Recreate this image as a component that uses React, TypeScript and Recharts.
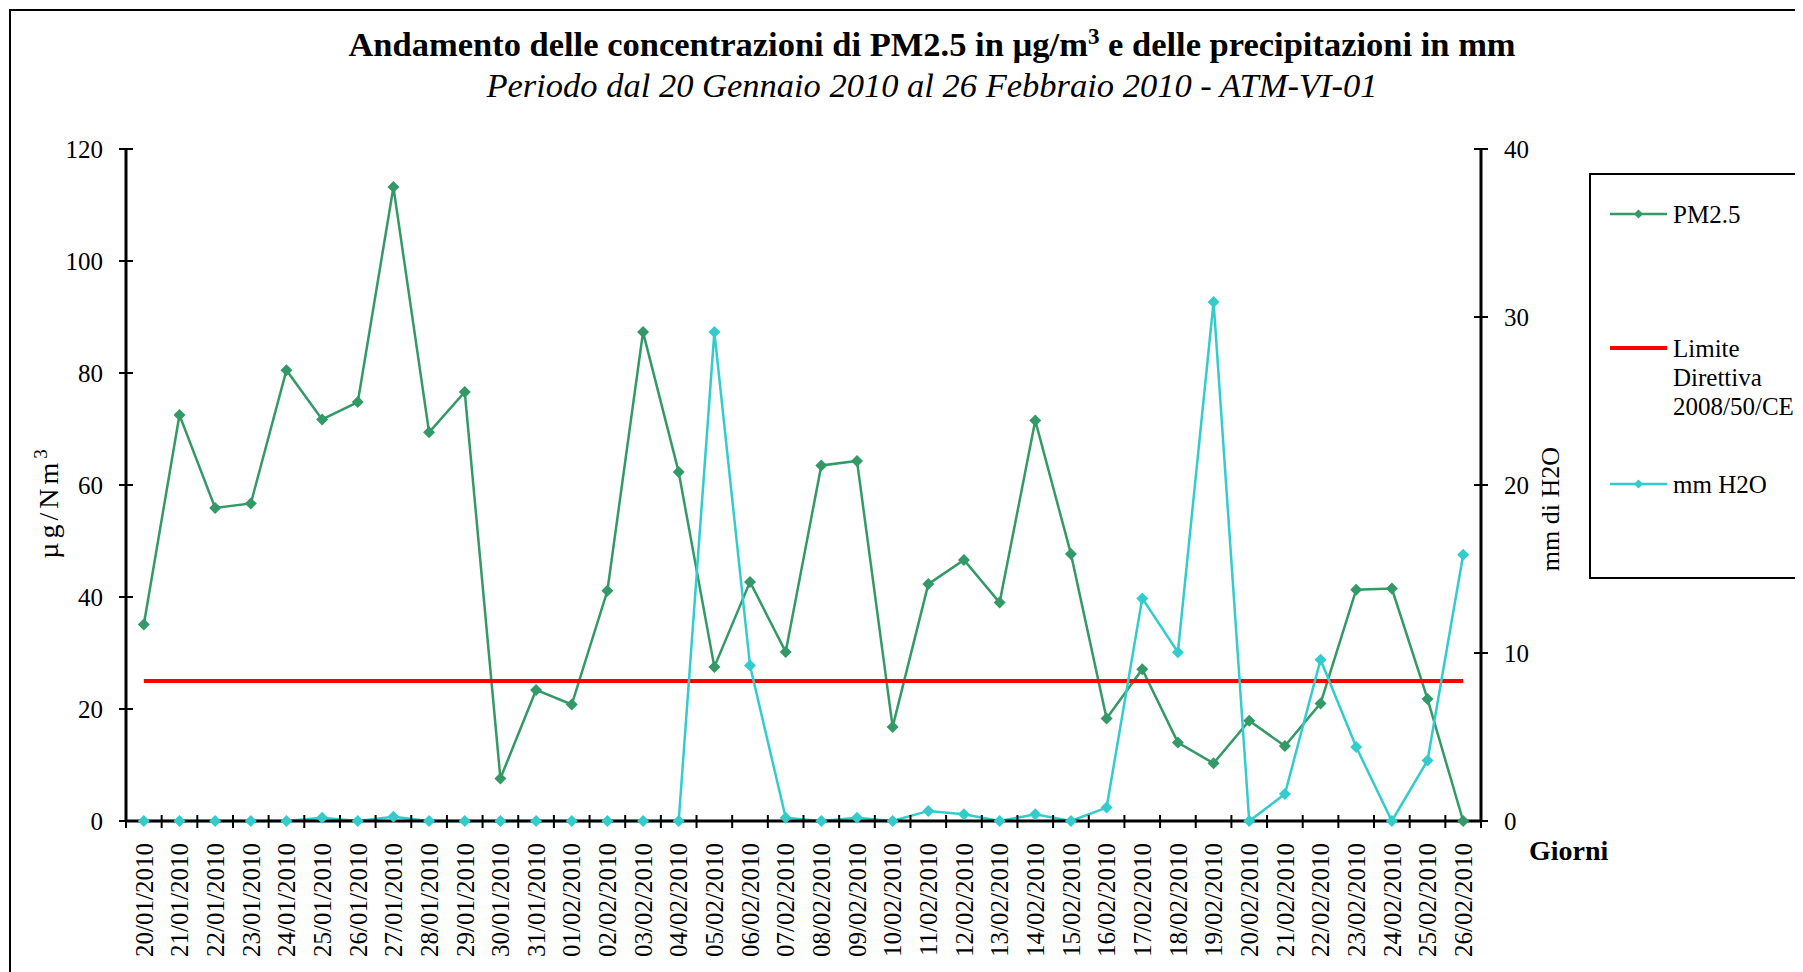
import { ComposedChart, Line, XAxis, YAxis, Legend } from "recharts";

const dates = [
  "20/01/2010", "21/01/2010", "22/01/2010", "23/01/2010", "24/01/2010", "25/01/2010",
  "26/01/2010", "27/01/2010", "28/01/2010", "29/01/2010", "30/01/2010", "31/01/2010",
  "01/02/2010", "02/02/2010", "03/02/2010", "04/02/2010", "05/02/2010", "06/02/2010",
  "07/02/2010", "08/02/2010", "09/02/2010", "10/02/2010", "11/02/2010", "12/02/2010",
  "13/02/2010", "14/02/2010", "15/02/2010", "16/02/2010", "17/02/2010", "18/02/2010",
  "19/02/2010", "20/02/2010", "21/02/2010", "22/02/2010", "23/02/2010", "24/02/2010",
  "25/02/2010", "26/02/2010",
];

// PM2.5 in µg/Nm3 (left axis)
const pm25 = [
  35.1, 72.5, 55.9, 56.7, 80.5, 71.7, 74.8, 113.2, 69.4, 76.6, 7.6, 23.4, 20.8,
  41.1, 87.3, 62.3, 27.5, 42.7, 30.2, 63.5, 64.3, 16.8, 42.3, 46.6, 39.0, 71.5,
  47.7, 18.3, 27.1, 14.0, 10.3, 17.9, 13.4, 21.0, 41.3, 41.5, 21.8, 0,
];

// precipitazioni in mm (right axis)
const rain = [
  0, 0, 0, 0, 0, 0.2, 0, 0.25, 0, 0, 0, 0, 0, 0, 0, 0, 29.1, 9.25, 0.2, 0, 0.2,
  0, 0.6, 0.4, 0, 0.4, 0, 0.8, 13.25, 10.05, 30.9, 0, 1.6, 9.6, 4.4, 0, 3.6, 15.85,
];

const LIMIT = 25;
const leftTicks = [0, 20, 40, 60, 80, 100, 120];
const rightTicks = [0, 10, 20, 30, 40];

const data = dates.map((d, i) => ({
  date: d,
  pm25: pm25[i],
  rain: rain[i],
  limit: LIMIT,
}));

const W = 1794;
const H = 964;
const PLOT_H = 672;
const MARGIN = { top: 141, right: 221, bottom: 0, left: 0 };
const LEFT_W = 118;
const RIGHT_W = 100;
const PLOT_W = W - MARGIN.left - MARGIN.right - LEFT_W - RIGHT_W;
const BAND = PLOT_W / dates.length;

const FONT = '"Liberation Serif", "Times New Roman", "DejaVu Serif", serif';
const GREEN = "#339966";
const CYAN = "#33CCCC";
const RED = "#FF0000";

const diamond = (color: string, r: number) => (props: any) => {
  const { cx, cy, index } = props;
  if (cx == null || cy == null) return <g key={index} />;
  return (
    <path
      key={index}
      d={`M${cx},${cy - r}L${cx + r},${cy}L${cx},${cy + r}L${cx - r},${cy}Z`}
      fill={color}
    />
  );
};

// category labels sit in the middle of each band, tick marks on the band edges
const DateTick = (props: any) => {
  const { x, y, payload, index } = props;
  const ty = y + 22;
  return (
    <g>
      <line x1={x - BAND / 2} x2={x - BAND / 2} y1={y - 6} y2={y + 7} stroke="#000" strokeWidth={2} />
      {index === dates.length - 1 && (
        <line x1={x + BAND / 2} x2={x + BAND / 2} y1={y - 6} y2={y + 7} stroke="#000" strokeWidth={2} />
      )}
      <text
        x={x}
        y={ty}
        dy="0.35em"
        transform={`rotate(-90, ${x}, ${ty})`}
        textAnchor="end"
        fontFamily={FONT}
        fontSize={25}
        fill="#000"
      >
        {payload.value}
      </text>
    </g>
  );
};

const LeftTick = (props: any) => {
  const { x, y, payload } = props;
  return (
    <g>
      <line x1={x - 7} x2={x + 7} y1={y} y2={y} stroke="#000" strokeWidth={2} />
      <text x={x - 23} y={y} dy="0.35em" textAnchor="end" fontFamily={FONT} fontSize={25} fill="#000">
        {payload.value}
      </text>
    </g>
  );
};

const RightTick = (props: any) => {
  const { x, y, payload } = props;
  return (
    <g>
      <line x1={x - 7} x2={x + 7} y1={y} y2={y} stroke="#000" strokeWidth={2} />
      <text x={x + 23} y={y} dy="0.35em" textAnchor="start" fontFamily={FONT} fontSize={25} fill="#000">
        {payload.value}
      </text>
    </g>
  );
};

const legendItems = [
  { lines: ["PM2.5"], color: GREEN, width: 2.5, marker: true, y: 41 },
  { lines: ["Limite", "Direttiva", "2008/50/CE"], color: RED, width: 4, marker: false, y: 175 },
  { lines: ["mm H2O"], color: CYAN, width: 2.5, marker: true, y: 311 },
];

const LegendBox = () => (
  <svg width={262} height={406}>
    <rect x={1} y={1} width={300} height={404} fill="#fff" stroke="#000" strokeWidth={2} />
    {legendItems.map((it) => (
      <g key={it.lines[0]}>
        <line x1={21} x2={78} y1={it.y} y2={it.y} stroke={it.color} strokeWidth={it.width} />
        {it.marker && (
          <path
            d={`M49.5,${it.y - 4.5}L54,${it.y}L49.5,${it.y + 4.5}L45,${it.y}Z`}
            fill={it.color}
          />
        )}
        {it.lines.map((t, k) => (
          <text key={t} x={84} y={it.y + k * 29} dy="0.35em" fontFamily={FONT} fontSize={25} fill="#000">
            {t}
          </text>
        ))}
      </g>
    ))}
  </svg>
);

export default function App() {
  return (
    <div style={{ position: "relative", width: W, height: H, overflow: "hidden", background: "#fff" }}>
      <style>{"html,body{overflow:hidden}"}</style>
      <ComposedChart width={W} height={H} data={data} margin={MARGIN}>
        <XAxis
          dataKey="date"
          interval={0}
          height={H - MARGIN.top - MARGIN.bottom - PLOT_H}
          padding={{ left: BAND / 2, right: BAND / 2 }}
          tickSize={0}
          tickMargin={0}
          tickLine={false}
          axisLine={{ stroke: "#000", strokeWidth: 3 }}
          tick={<DateTick />}
        />
        <YAxis
          yAxisId="pm"
          orientation="left"
          width={LEFT_W}
          domain={[0, 120]}
          ticks={leftTicks}
          tickSize={0}
          tickMargin={0}
          tickLine={false}
          axisLine={{ stroke: "#000", strokeWidth: 3 }}
          tick={<LeftTick />}
        />
        <YAxis
          yAxisId="mm"
          orientation="right"
          width={RIGHT_W}
          domain={[0, 40]}
          ticks={rightTicks}
          tickSize={0}
          tickMargin={0}
          tickLine={false}
          axisLine={{ stroke: "#000", strokeWidth: 3 }}
          tick={<RightTick />}
        />
        <Legend
          layout="vertical"
          align="center"
          verticalAlign="middle"
          content={() => <LegendBox />}
          wrapperStyle={{ left: 1581, top: 165, width: 262, height: 406 }}
        />
        <Line
          yAxisId="pm"
          dataKey="pm25"
          name="PM2.5"
          stroke={GREEN}
          strokeWidth={2.5}
          dot={diamond(GREEN, 6)}
          isAnimationActive={false}
        />
        <Line
          yAxisId="pm"
          dataKey="limit"
          name="Limite Direttiva 2008/50/CE"
          stroke={RED}
          strokeWidth={4}
          dot={false}
          isAnimationActive={false}
        />
        <Line
          yAxisId="mm"
          dataKey="rain"
          name="mm H2O"
          stroke={CYAN}
          strokeWidth={2.5}
          dot={diamond(CYAN, 6)}
          isAnimationActive={false}
        />
      </ComposedChart>
      <svg
        width={W}
        height={H}
        style={{ position: "absolute", left: 0, top: 0, pointerEvents: "none" }}
      >
        <line x1={1} y1={2} x2={W} y2={2} stroke="#000" strokeWidth={2} />
        <line x1={2} y1={1} x2={2} y2={H} stroke="#000" strokeWidth={2} />
        <text x={924} y={48} textAnchor="middle" fontFamily={FONT} fontWeight="bold" fontSize={34.5} fill="#000">
          Andamento delle concentrazioni di PM2.5 in µg/m
          <tspan dy={-12} fontSize={23}>3</tspan>
          <tspan dy={12}> e delle precipitazioni in mm</tspan>
        </text>
        <text x={924} y={89} textAnchor="middle" fontFamily={FONT} fontStyle="italic" fontSize={34.5} fill="#000">
          Periodo dal 20 Gennaio 2010 al 26 Febbraio 2010 - ATM-VI-01
        </text>
        <text
          x={40}
          y={494}
          dy="0.35em"
          transform="rotate(-90, 40, 494)"
          textAnchor="middle"
          fontFamily={FONT}
          fontSize={28}
          letterSpacing={4}
          fill="#000"
        >
          µg/Nm
          <tspan dy={-11} fontSize={19}>3</tspan>
        </text>
        <text
          x={1542}
          y={501}
          dy="0.35em"
          transform="rotate(-90, 1542, 501)"
          textAnchor="middle"
          fontFamily={FONT}
          fontSize={26}
          fill="#000"
        >
          mm di H2O
        </text>
        <text x={1521} y={852} fontFamily={FONT} fontWeight="bold" fontSize={28} fill="#000">
          Giorni
        </text>
      </svg>
    </div>
  );
}
